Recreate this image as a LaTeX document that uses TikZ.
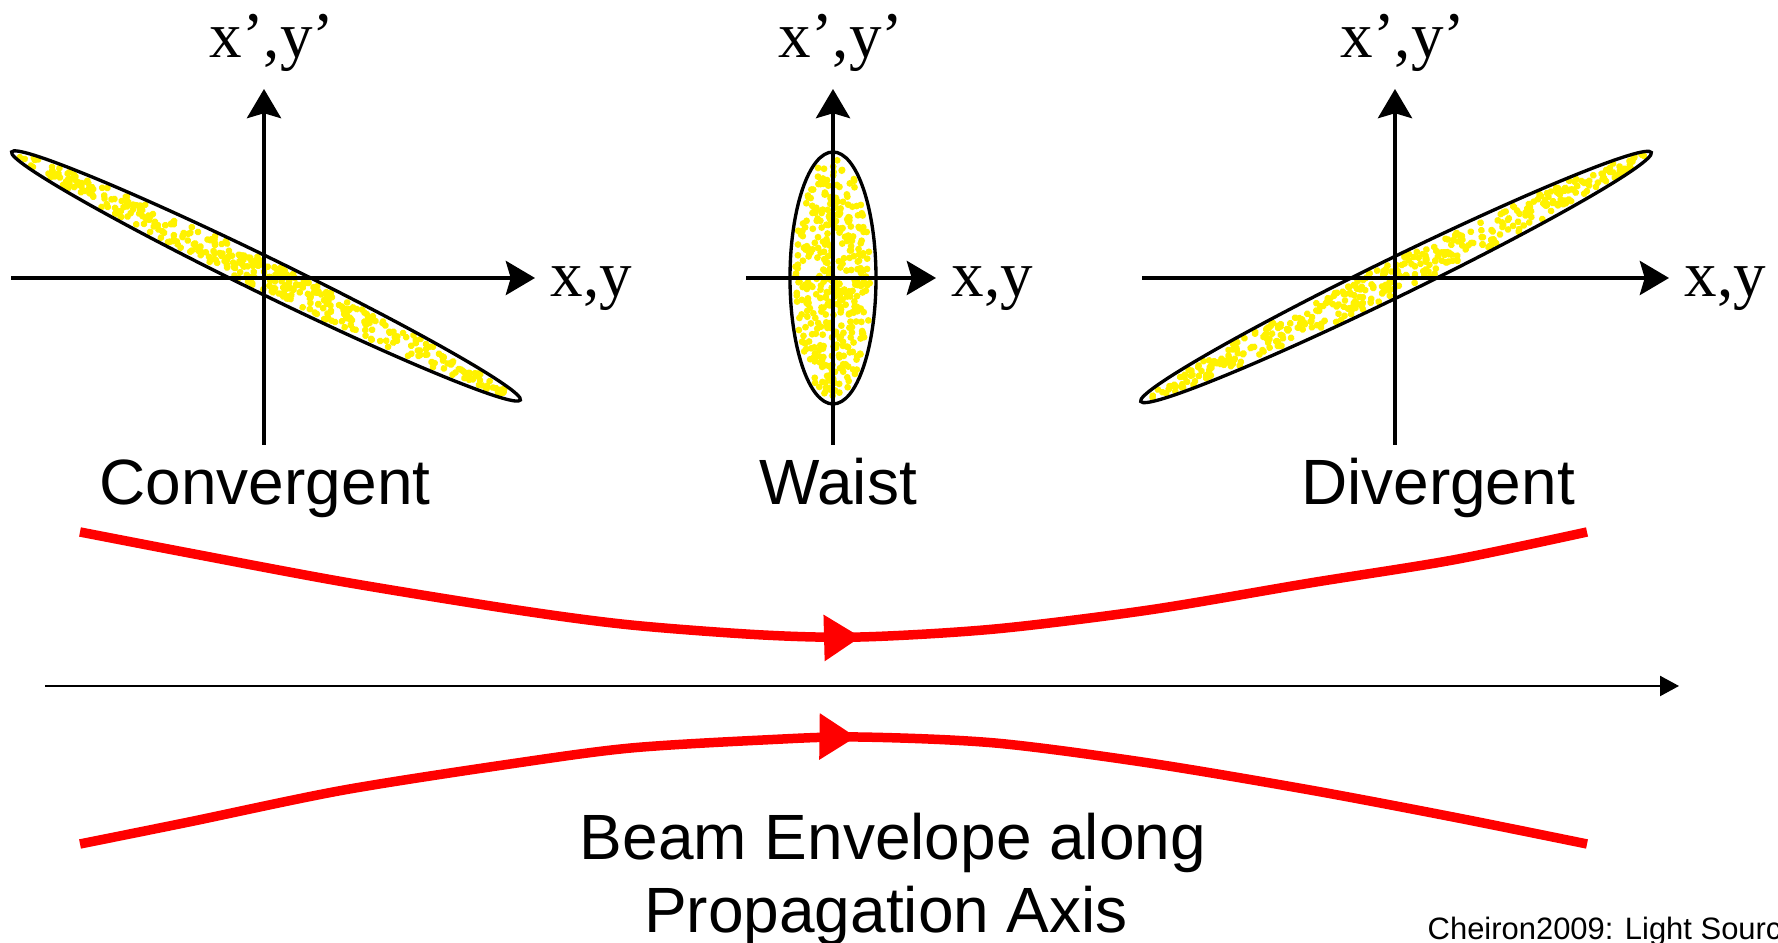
\documentclass[tikz,border=0pt]{standalone}
\usepackage{fontspec}
\setmainfont{Liberation Serif}
\setsansfont{Liberation Sans}
\usetikzlibrary{arrows.meta,decorations.markings}

\begin{document}
\begin{tikzpicture}
[x=0.01cm, y=0.01cm]
\tikzstyle{axis}=[line width=1.1pt, -{Stealth[length=8.3pt, width=9.7pt, inset=1.4pt]}]
\tikzstyle{emit}=[line width=0.95pt]
\tikzstyle{dot}=[fill=yellow]
\tikzstyle{axlabel}=[inner sep=0pt, font=\fontsize{18.5}{22}\selectfont]
\tikzstyle{phaselabel}=[inner sep=0pt, font=\sffamily\fontsize{18.2}{22}\selectfont]
\tikzstyle{envelope}=[red, line width=2.7pt, postaction={decorate}]
\useasboundingbox (0,0) rectangle (1778,943);

% convergent
\coordinate (L1) at (11,665);
\coordinate (X1) at (535,665);
\coordinate (B1) at (264,498);
\coordinate (T1) at (264,854);
\begin{scope}[shift={(266,667)}, rotate=-26]
\pgfmathsetseed{11}
\foreach \i in {1,...,420}{
  \pgfmathsetmacro{\dr}{sqrt(rnd)}
  \pgfmathsetmacro{\da}{360*rnd}
  \fill[dot] ({277*\dr*cos(\da)},{14*\dr*sin(\da)}) circle (3.4);
}
\draw[emit] (0,0) ellipse [x radius=283, y radius=18];
\end{scope}
\draw[axis] (L1) -- (X1);
\draw[axis] (B1) -- (T1);
\node[axlabel, anchor=base west] (XY1) at (550,646) {x,y};
\node[axlabel, anchor=base] (XP1) at (272,885) {x’,y’};
\node[phaselabel, anchor=base] (P1) at (265,438) {Convergent};

% waist
\coordinate (L2) at (746,665);
\coordinate (X2) at (936,665);
\coordinate (B2) at (833,498);
\coordinate (T2) at (833,854);
\begin{scope}[shift={(833,665)}]
\pgfmathsetseed{23}
\foreach \i in {1,...,400}{
  \pgfmathsetmacro{\dr}{sqrt(rnd)}
  \pgfmathsetmacro{\da}{360*rnd}
  \fill[dot] ({38*\dr*cos(\da)},{120*\dr*sin(\da)}) circle (3.4);
}
\draw[emit] (0,0) ellipse [x radius=43, y radius=126];
\end{scope}
\draw[axis] (L2) -- (X2);
\draw[axis] (B2) -- (T2);
\node[axlabel, anchor=base west] (XY2) at (951,646) {x,y};
\node[axlabel, anchor=base] (XP2) at (841,885) {x’,y’};
\node[phaselabel, anchor=base] (P2) at (838,438) {Waist};

% divergent
\coordinate (L3) at (1142,665);
\coordinate (X3) at (1669,665);
\coordinate (B3) at (1395,498);
\coordinate (T3) at (1395,854);
\begin{scope}[shift={(1396,666)}, rotate=26]
\pgfmathsetseed{37}
\foreach \i in {1,...,420}{
  \pgfmathsetmacro{\dr}{sqrt(rnd)}
  \pgfmathsetmacro{\da}{360*rnd}
  \fill[dot] ({278*\dr*cos(\da)},{15*\dr*sin(\da)}) circle (3.4);
}
\draw[emit] (0,0) ellipse [x radius=284, y radius=19];
\end{scope}
\draw[axis] (L3) -- (X3);
\draw[axis] (B3) -- (T3);
\node[axlabel, anchor=base west] (XY3) at (1684,646) {x,y};
\node[axlabel, anchor=base] (XP3) at (1403,885) {x’,y’};
\node[phaselabel, anchor=base] (P3) at (1438,438) {Divergent};

% envelope
\coordinate (S) at (45,257);
\coordinate (E) at (1679,257);
\draw[line width=0.6pt, -{Triangle[length=5.4pt, width=5.7pt]}] (S) -- (E);
\draw[envelope, decoration={markings, mark=at position 0.518 with {\arrow{Triangle[length=10.5pt, width=12.5pt]}}}]
  plot[smooth] coordinates {(80,411) (189,390) (344,361) (517,333) (631,318) (763,308)
  (861,306) (995,314) (1149,333) (1310,360) (1453,383) (1587,411)};
\draw[envelope, decoration={markings, mark=at position 0.515 with {\arrow{Triangle[length=10.5pt, width=12.5pt]}}}]
  plot[smooth] coordinates {(80,99) (189,121) (344,153) (517,180) (631,195) (763,203)
  (857,206) (995,200) (1149,180) (1310,153) (1453,126) (1587,99)};
\node[phaselabel, anchor=base] (Q1) at (893,83) {Beam Envelope along};
\node[phaselabel, anchor=base] (Q2) at (886,10) {Propagation Axis};
\node[anchor=base west, inner sep=0pt, font=\sffamily\fontsize{8.8}{10}\selectfont] (src) at (1427,3) {Cheiron2009: Light Sources};
\end{tikzpicture}
\end{document}
